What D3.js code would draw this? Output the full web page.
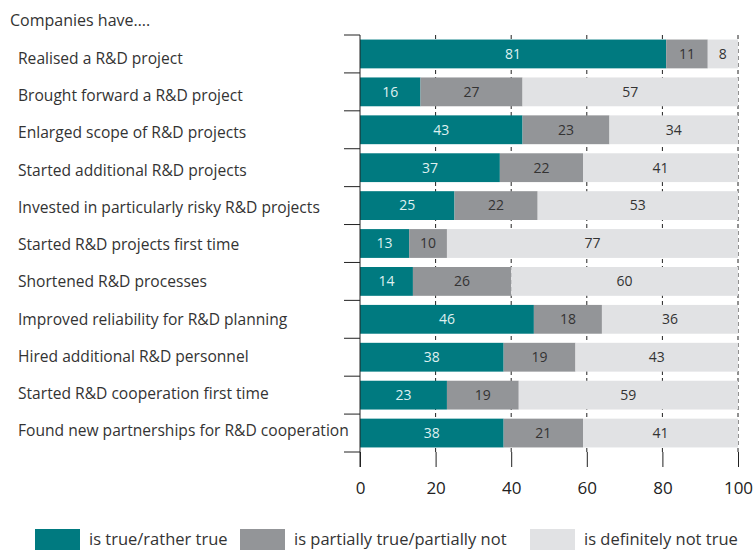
<!DOCTYPE html>
<html>
<head>
<meta charset="utf-8">
<script src="https://cdn.jsdelivr.net/npm/d3@7"></script>
<style>
  body { margin: 0; background: #fff; }
  text { font-family: "Open Sans", sans-serif; }
</style>
</head>
<body>
<svg width="755" height="550"></svg>
<script>
var categories = [
  "Realised a R&D project",
  "Brought forward a R&D project",
  "Enlarged scope of R&D projects",
  "Started additional R&D projects",
  "Invested in particularly risky R&D projects",
  "Started R&D projects first time",
  "Shortened R&D processes",
  "Improved reliability for R&D planning",
  "Hired additional R&D personnel",
  "Started R&D cooperation first time",
  "Found new partnerships for R&D cooperation"
];
var trueVals = [81, 16, 43, 37, 25, 13, 14, 46, 38, 23, 38];
var partialVals = [11, 27, 23, 22, 22, 10, 26, 18, 19, 19, 21];
var notVals = [8, 57, 34, 41, 53, 77, 60, 36, 43, 59, 41];
var seriesNames = ["is true/rather true", "is partially true/partially not", "is definitely not true"];
var xTicks = [0, 20, 40, 60, 80, 100];

var colors = ["#007a80", "#939598", "#e1e2e4"];
var labelColors = ["#dff0f0", "#333333", "#333333"];

var svg = d3.select("svg");

var x = d3.scaleLinear().domain([0, 100]).range([360, 738]);
var y = d3.scaleBand()
    .domain(categories)
    .range([35, 452])
    .paddingInner(0.24)
    .paddingOuter(0.12);

// category text sits on its own slightly tighter pitch
var yLabel = d3.scalePoint()
    .domain(categories)
    .range([58.5, 431]);

// stacked segments
var rows = categories.map(function(c, i) {
    var vals = [trueVals[i], partialVals[i], notVals[i]];
    var start = 0;
    return vals.map(function(v, k) {
        var seg = { cat: c, k: k, v: v, x0: start, x1: Math.min(100, start + v) };
        start += v;
        return seg;
    });
});

// dashed grid lines (behind bars)
svg.selectAll(".grid")
    .data(xTicks.slice(1))
    .enter().append("line")
    .attr("x1", d => x(d)).attr("x2", d => x(d))
    .attr("y1", 35).attr("y2", 452)
    .attr("stroke", "#222")
    .attr("stroke-width", 1)
    .attr("stroke-dasharray", "4,3");

var segs = svg.selectAll(".row")
    .data(rows)
    .enter().append("g")
    .selectAll("g")
    .data(d => d)
    .enter().append("g");

segs.append("rect")
    .attr("x", d => x(d.x0))
    .attr("y", d => y(d.cat))
    .attr("width", d => x(d.x1) - x(d.x0))
    .attr("height", y.bandwidth())
    .attr("fill", d => colors[d.k]);

segs.append("text")
    .attr("x", d => (x(d.x0) + x(d.x1)) / 2)
    .attr("y", d => y(d.cat) + y.bandwidth() / 2)
    .attr("dy", "0.35em")
    .attr("text-anchor", "middle")
    .attr("font-size", 14)
    .attr("fill", d => labelColors[d.k])
    .text(d => d.v);

// left axis with ticks at band boundaries
svg.append("line")
    .attr("x1", 360).attr("x2", 360)
    .attr("y1", 35).attr("y2", 467)
    .attr("stroke", "#222");

var bounds = categories.map(c => y(c) - y.step() * y.paddingInner() / 2);
bounds.push(452);
bounds[0] = 35;
svg.selectAll(".ytick")
    .data(bounds)
    .enter().append("line")
    .attr("x1", 344).attr("x2", 360)
    .attr("y1", d => d).attr("y2", d => d)
    .attr("stroke", "#222");

// bottom x axis ticks
var xAxis = svg.append("g")
    .attr("transform", "translate(0,452)")
    .call(d3.axisBottom(x).tickValues(xTicks).tickSize(15).tickPadding(15));
xAxis.select(".domain").remove();
xAxis.selectAll("line").attr("stroke", "#222");
xAxis.selectAll("text")
    .attr("font-size", 17)
    .attr("font-family", "Open Sans, sans-serif")
    .attr("fill", "#222");

// category labels
svg.selectAll(".cat")
    .data(categories)
    .enter().append("text")
    .attr("x", 18)
    .attr("y", d => yLabel(d))
    .attr("dy", "0.35em")
    .attr("font-size", 15.6)
    .attr("fill", "#333")
    .text(d => d);

svg.append("text")
    .attr("x", 10)
    .attr("y", 26)
    .attr("font-size", 16)
    .attr("fill", "#333")
    .text("Companies have….");

// legend (kept just inside the bottom edge)
var legendX = [35, 240, 530];
var legend = svg.selectAll(".legend")
    .data(seriesNames)
    .enter().append("g")
    .attr("transform", (d, i) => `translate(${legendX[i]},529)`);
legend.append("rect")
    .attr("width", 45).attr("height", 21)
    .attr("fill", (d, i) => colors[i]);
legend.append("text")
    .attr("x", 54)
    .attr("y", 16)
    .attr("font-size", 16.5)
    .attr("fill", "#333")
    .text(d => d);
</script>
</body>
</html>
